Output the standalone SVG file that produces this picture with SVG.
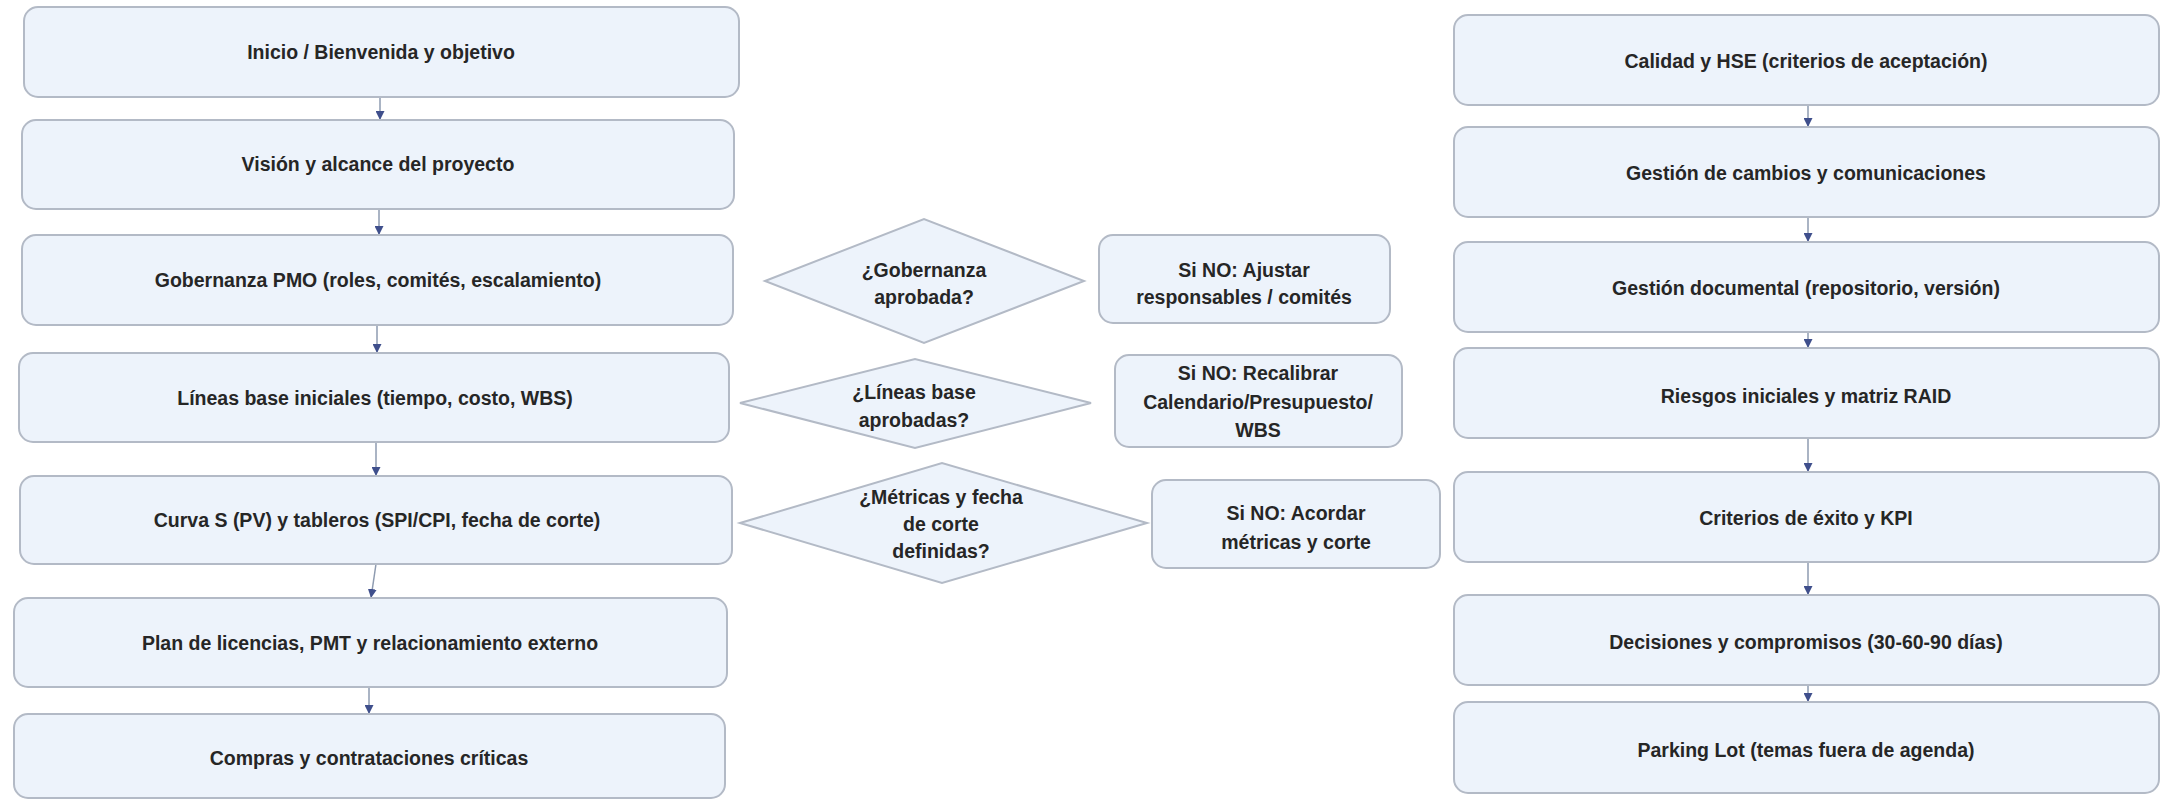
<svg xmlns="http://www.w3.org/2000/svg" width="2164" height="800" viewBox="0 0 2164 800">
<style>
.box{fill:#edf3fb;stroke:#b3bac6;stroke-width:2}
.dia{fill:#edf3fb;stroke:#b3bac6;stroke-width:2}
.t{font-family:"Liberation Sans",Arial,sans-serif;font-weight:bold;font-size:19.5px;fill:#262626;text-anchor:middle}
.c{fill:none;stroke:#8e9bb0;stroke-width:1.5}
</style>
<defs>
<marker id="ah" viewBox="0 0 10 10" refX="10" refY="5" markerWidth="9" markerHeight="9" markerUnits="userSpaceOnUse" orient="auto">
<path d="M0,0 L10,5 L0,10 z" fill="#3f4f8c"/>
</marker>
</defs>
<rect width="2164" height="800" fill="#ffffff"/>

<g id="connectors">
<line class="c" x1="380" y1="97" x2="380" y2="120" marker-end="url(#ah)"/>
<line class="c" x1="379" y1="209" x2="379" y2="235" marker-end="url(#ah)"/>
<line class="c" x1="377" y1="325" x2="377" y2="353" marker-end="url(#ah)"/>
<line class="c" x1="376" y1="442" x2="376" y2="476" marker-end="url(#ah)"/>
<line class="c" x1="376" y1="564" x2="371" y2="598" marker-end="url(#ah)"/>
<line class="c" x1="369" y1="687" x2="369" y2="714" marker-end="url(#ah)"/>
<line class="c" x1="1808" y1="105" x2="1808" y2="127" marker-end="url(#ah)"/>
<line class="c" x1="1808" y1="217" x2="1808" y2="242" marker-end="url(#ah)"/>
<line class="c" x1="1808" y1="332" x2="1808" y2="348" marker-end="url(#ah)"/>
<line class="c" x1="1808" y1="438" x2="1808" y2="472" marker-end="url(#ah)"/>
<line class="c" x1="1808" y1="562" x2="1808" y2="595" marker-end="url(#ah)"/>
<line class="c" x1="1808" y1="685" x2="1808" y2="702" marker-end="url(#ah)"/>
</g>

<g id="n1"><rect class="box" x="24" y="7" width="715" height="90" rx="14"/><text class="t" x="381" y="59">Inicio / Bienvenida y objetivo</text></g>
<g id="n2"><rect class="box" x="22" y="120" width="712" height="89" rx="14"/><text class="t" x="378" y="171">Visión y alcance del proyecto</text></g>
<g id="n3"><rect class="box" x="22" y="235" width="711" height="90" rx="14"/><text class="t" x="378" y="287">Gobernanza PMO (roles, comités, escalamiento)</text></g>
<g id="n4"><rect class="box" x="19" y="353" width="710" height="89" rx="14"/><text class="t" x="375" y="405">Líneas base iniciales (tiempo, costo, WBS)</text></g>
<g id="n5"><rect class="box" x="20" y="476" width="712" height="88" rx="14"/><text class="t" x="377" y="527">Curva S (PV) y tableros (SPI/CPI, fecha de corte)</text></g>
<g id="n6"><rect class="box" x="14" y="598" width="713" height="89" rx="14"/><text class="t" x="370" y="650">Plan de licencias, PMT y relacionamiento externo</text></g>
<g id="n7"><rect class="box" x="14" y="714" width="711" height="84" rx="14"/><text class="t" x="369" y="765">Compras y contrataciones críticas</text></g>

<g id="d1"><polygon class="dia" points="765,281 924,219 1084,281 924,343"/><text class="t" x="924" y="277">¿Gobernanza</text><text class="t" x="924" y="304">aprobada?</text></g>
<g id="d2"><polygon class="dia" points="740,403 915,359 1091,403 915,448"/><text class="t" x="914" y="399">¿Líneas base</text><text class="t" x="914" y="427">aprobadas?</text></g>
<g id="d3"><polygon class="dia" points="740,523 942,463 1147,523 942,583"/><text class="t" x="941" y="504">¿Métricas y fecha</text><text class="t" x="941" y="531">de corte</text><text class="t" x="941" y="558">definidas?</text></g>

<g id="a1"><rect class="box" x="1099" y="235" width="291" height="88" rx="14"/><text class="t" x="1244" y="277">Si NO: Ajustar</text><text class="t" x="1244" y="304">responsables / comités</text></g>
<g id="a2"><rect class="box" x="1115" y="355" width="287" height="92" rx="14"/><text class="t" x="1258" y="380">Si NO: Recalibrar</text><text class="t" x="1258" y="409">Calendario/Presupuesto/</text><text class="t" x="1258" y="437">WBS</text></g>
<g id="a3"><rect class="box" x="1152" y="480" width="288" height="88" rx="14"/><text class="t" x="1296" y="520">Si NO: Acordar</text><text class="t" x="1296" y="549">métricas y corte</text></g>

<g id="r1"><rect class="box" x="1454" y="15" width="705" height="90" rx="14"/><text class="t" x="1806" y="68">Calidad y HSE (criterios de aceptación)</text></g>
<g id="r2"><rect class="box" x="1454" y="127" width="705" height="90" rx="14"/><text class="t" x="1806" y="180">Gestión de cambios y comunicaciones</text></g>
<g id="r3"><rect class="box" x="1454" y="242" width="705" height="90" rx="14"/><text class="t" x="1806" y="295">Gestión documental (repositorio, versión)</text></g>
<g id="r4"><rect class="box" x="1454" y="348" width="705" height="90" rx="14"/><text class="t" x="1806" y="403">Riesgos iniciales y matriz RAID</text></g>
<g id="r5"><rect class="box" x="1454" y="472" width="705" height="90" rx="14"/><text class="t" x="1806" y="525">Criterios de éxito y KPI</text></g>
<g id="r6"><rect class="box" x="1454" y="595" width="705" height="90" rx="14"/><text class="t" x="1806" y="649">Decisiones y compromisos (30-60-90 días)</text></g>
<g id="r7"><rect class="box" x="1454" y="702" width="705" height="91" rx="14"/><text class="t" x="1806" y="757">Parking Lot (temas fuera de agenda)</text></g>
</svg>
